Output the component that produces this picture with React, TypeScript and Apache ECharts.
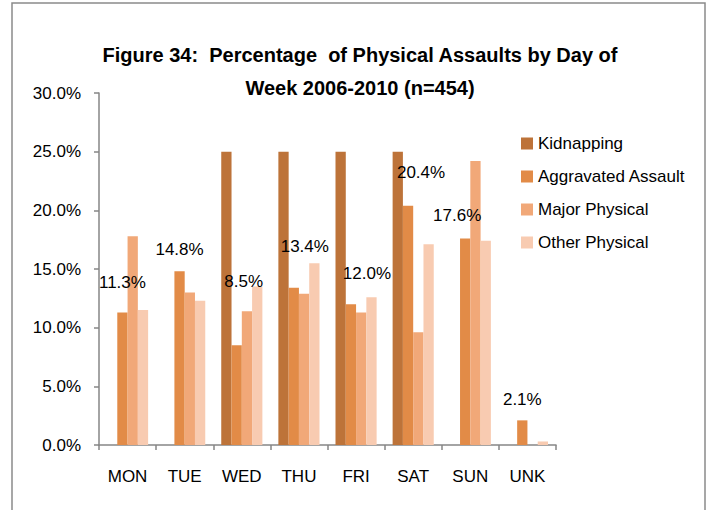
import React, { useEffect, useRef } from "react";
import * as echarts from "echarts";

const days = ["MON", "TUE", "WED", "THU", "FRI", "SAT", "SUN", "UNK"];
const seriesNames = ["Kidnapping", "Aggravated Assault", "Major Physical", "Other Physical"];
const kidnapping = [0, 0, 25.0, 25.0, 25.0, 25.0, 0, 0];
const aggravated = [11.3, 14.8, 8.5, 13.4, 12.0, 20.4, 17.6, 2.1];
const majorPhysical = [17.8, 13.0, 11.4, 12.9, 11.3, 9.6, 24.2, 0];
const otherPhysical = [11.5, 12.3, 13.5, 15.5, 12.6, 17.1, 17.4, 0.3];
const yTicks = [0, 5, 10, 15, 20, 25, 30];
const titleLines = ["Figure 34:  Percentage  of Physical Assaults by Day of", "Week 2006-2010 (n=454)"];

// layout: nudges of the data labels (px) relative to the top of the bar
const labelNudge: [number, number][] = [
  [0, -30], [0, -22], [7, -64], [11, -42], [16, -31], [13, -34], [-8, -23], [0, -21],
];

const colors = ["#BD7339", "#E28B47", "#F1A878", "#F8CBB1"];
const FONT = "Liberation Sans";

export default function App() {
  const ref = useRef<HTMLDivElement>(null);
  useEffect(() => {
    if (!ref.current) return;
    const chart = echarts.init(ref.current, undefined, { renderer: "svg" });
    const valuesList = [kidnapping, aggravated, majorPhysical, otherPhysical];
    const series = valuesList.map((vals, i) => ({
      type: "bar" as const,
      name: seriesNames[i],
      barGap: "0%",
      barCategoryGap: "28%",
      itemStyle: { color: colors[i] },
      data:
        i === 1
          ? vals.map((v, k) => ({
              value: v,
              label: {
                show: true,
                position: "top",
                distance: 0,
                offset: [labelNudge[k][0], labelNudge[k][1] + 9],
                formatter: (p: any) => `${Number(p.value).toFixed(1)}%`,
                fontFamily: FONT,
                fontSize: 17,
                color: "#000",
              },
            }))
          : vals,
    }));
    chart.setOption({
      animation: false,
      backgroundColor: "#ffffff",
      grid: { left: 99, top: 93, right: 153, bottom: 65, containLabel: false },
      legend: {
        orient: "vertical",
        left: 516,
        top: 130,
        itemWidth: 12,
        itemHeight: 12,
        itemGap: 16,
        icon: "rect",
        data: seriesNames,
        textStyle: { fontFamily: FONT, fontSize: 17, color: "#000", lineHeight: 17 },
      },
      xAxis: {
        type: "category",
        data: days,
        axisLine: { lineStyle: { color: "#868686", width: 1.5 } },
        axisTick: { show: true, alignWithLabel: false, length: 5, lineStyle: { color: "#868686", width: 1.5 } },
        axisLabel: { margin: 23, fontFamily: FONT, fontSize: 17, color: "#000" },
      },
      yAxis: {
        type: "value",
        min: yTicks[0],
        max: yTicks[yTicks.length - 1],
        interval: yTicks[1] - yTicks[0],
        splitLine: { show: false },
        axisLine: { show: true, lineStyle: { color: "#868686", width: 1.5 } },
        axisTick: { show: true, length: 5, lineStyle: { color: "#868686", width: 1.5 } },
        axisLabel: {
          margin: 18,
          fontFamily: FONT,
          fontSize: 17,
          color: "#000",
          formatter: (v: number) => `${v.toFixed(1)}%`,
        },
      },
      graphic: [
        {
          type: "rect",
          silent: true,
          shape: { x: 12, y: 3, width: 693, height: 540 },
          style: { fill: "none", stroke: "#8a8a8a", lineWidth: 1.5 },
        },
        {
          type: "text",
          x: 360,
          y: 55,
          style: {
            text: titleLines[0],
            fontFamily: FONT,
            fontWeight: "bold",
            fontSize: 20,
            fill: "#000",
            textAlign: "center",
            textVerticalAlign: "middle",
          },
        },
        {
          type: "text",
          x: 360,
          y: 88,
          style: {
            text: titleLines[1],
            fontFamily: FONT,
            fontWeight: "bold",
            fontSize: 20,
            fill: "#000",
            textAlign: "center",
            textVerticalAlign: "middle",
          },
        },
      ],
      series,
    });
    return () => chart.dispose();
  }, []);
  return (
    <div
      ref={ref}
      style={{ position: "fixed", left: 0, top: 0, width: 709, height: 510, background: "#fff" }}
    />
  );
}
